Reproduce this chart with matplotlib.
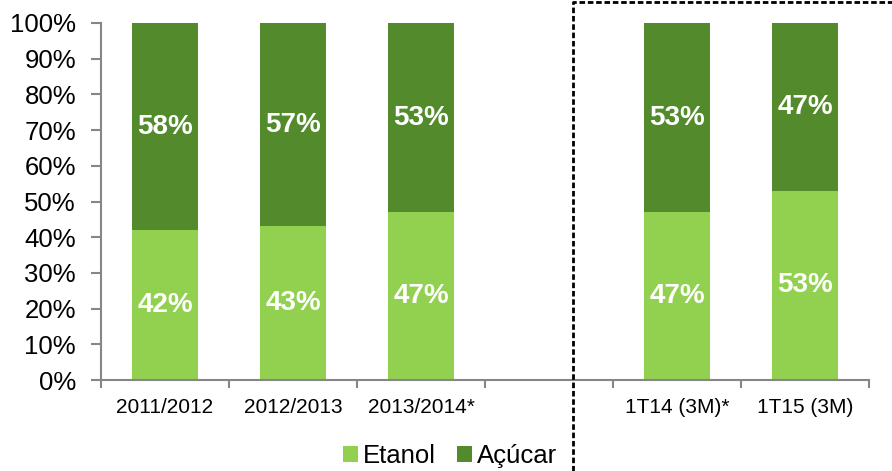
import matplotlib.pyplot as plt
from matplotlib.lines import Line2D
from matplotlib.ticker import FixedLocator, PercentFormatter
import numpy as np

plt.rcParams['font.family'] = ['Liberation Sans', 'DejaVu Sans']

categories = ["2011/2012", "2012/2013", "2013/2014*", "", "1T14 (3M)*", "1T15 (3M)"]
etanol = [42, 43, 47, 0, 47, 53]
acucar = [58, 57, 53, 0, 53, 47]
show = [True, True, True, False, True, True]

c_etanol = "#92D050"
c_acucar = "#528A2C"
grey = "#868686"

fig = plt.figure(figsize=(8.92, 4.71), dpi=100)
ax = fig.add_axes([101 / 892, 1 - 380 / 471, 768 / 892, 357 / 471])

x = np.arange(len(categories))
w = 0.51
b1 = ax.bar(x, etanol, w, color=c_etanol, label="Etanol")
b2 = ax.bar(x, acucar, w, bottom=etanol, color=c_acucar, label="Açúcar")

for i in range(len(categories)):
    if not show[i]:
        continue
    ax.text(x[i], etanol[i] / 2, f"{etanol[i]}%", ha="center", va="center",
            color="white", fontsize=20, fontweight="bold")
    ax.text(x[i], etanol[i] + acucar[i] / 2, f"{acucar[i]}%", ha="center", va="center",
            color="white", fontsize=20, fontweight="bold")

ax.set_xlim(-0.5, len(categories) - 0.5)
ax.set_ylim(0, 100)
ax.set_yticks(np.arange(0, 101, 10))
ax.yaxis.set_major_formatter(PercentFormatter(decimals=0))
ax.set_xticks(x)
ax.set_xticklabels(categories, fontsize=15)
ax.xaxis.set_minor_locator(FixedLocator(np.arange(-0.5, len(categories), 1)))
ax.tick_params(axis="x", which="major", length=0, pad=13)
ax.tick_params(axis="x", which="minor", length=6, width=1.5, color=grey, direction="out")
ax.tick_params(axis="y", length=7, width=1.5, color=grey, labelsize=18.5, pad=11)

for s in ["top", "right"]:
    ax.spines[s].set_visible(False)
for s in ["left", "bottom"]:
    ax.spines[s].set_color(grey)
    ax.spines[s].set_linewidth(1.5)

# dashed frame around the quarterly part
fig.add_artist(Line2D([573 / 892, 573 / 892, 1.0], [0.0, 1 - 2 / 471, 1 - 2 / 471],
                      transform=fig.transFigure, color="black", lw=2,
                      linestyle=(0, (2.0, 1.0))))

fig.legend(handles=[b1, b2], labels=["Etanol", "Açúcar"], loc="center",
           bbox_to_anchor=(450 / 892, 1 - 456 / 471), ncol=2, frameon=False,
           fontsize=18.5, handlelength=0.6, handleheight=0.6, handletextpad=0.2,
           columnspacing=0.8)

fig.savefig("out.png", dpi=100)
